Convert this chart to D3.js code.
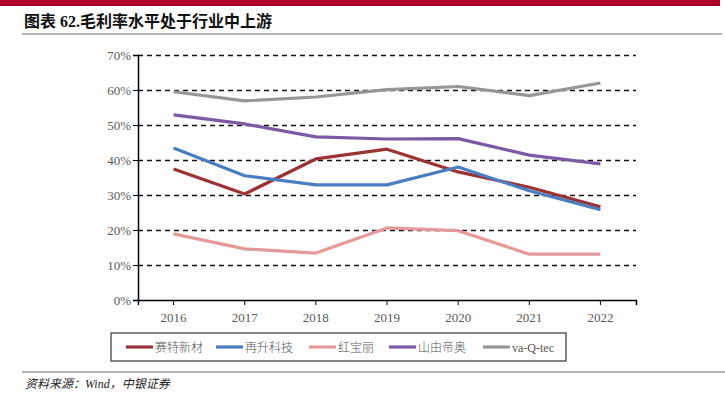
<!DOCTYPE html>
<html>
<head>
<meta charset="utf-8">
<script src="https://cdn.jsdelivr.net/npm/d3@7"></script>
<style>
  body { margin: 0; background: #fff; }
  svg text { font-family: "Liberation Serif", "Noto Sans CJK SC", serif; }
</style>
</head>
<body>
<div id="chart"></div>
<script>
// chart data
var years = ["2016", "2017", "2018", "2019", "2020", "2021", "2022"];
var seriesNames = ["赛特新材", "再升科技", "红宝丽", "山由帝奥", "va-Q-tec"];
var saite = [37.4, 30.3, 40.3, 43.1, 36.6, 32.2, 26.6];
var zaisheng = [43.4, 35.5, 32.9, 32.9, 38.0, 31.2, 25.8];
var hongbaoli = [18.9, 14.6, 13.4, 20.6, 19.8, 13.1, 13.1];
var shanyou = [52.9, 50.3, 46.6, 46.0, 46.1, 41.4, 38.9];
var vaqtec = [59.5, 56.9, 58.0, 60.1, 61.0, 58.4, 62.0];
var yTicks = [0, 10, 20, 30, 40, 50, 60, 70];
var colors = ["#9B3234", "#4A7EC1", "#E39A98", "#7B5AA3", "#969696"];

var allSeries = [saite, zaisheng, hongbaoli, shanyou, vaqtec];

var width = 725, height = 408;
var svg = d3.select("#chart").append("svg")
  .attr("width", width).attr("height", height);

// header bar and rules
svg.append("rect").attr("x", 0).attr("y", 0).attr("width", 720).attr("height", 6).attr("fill", "#B0002A");
svg.append("text").attr("x", 24).attr("y", 27)
  .attr("font-size", 16).attr("font-weight", "bold").attr("fill", "#111")
  .text("图表 62.毛利率水平处于行业中上游");
svg.append("line").attr("x1", 22).attr("x2", 722).attr("y1", 34).attr("y2", 34)
  .attr("stroke", "#999").attr("stroke-width", 1.5);
svg.append("line").attr("x1", 22).attr("x2", 725).attr("y1", 372).attr("y2", 372)
  .attr("stroke", "#999").attr("stroke-width", 1.5);
svg.append("text").attr("x", 25).attr("y", 388)
  .attr("font-size", 12).attr("font-style", "italic").attr("fill", "#222")
  .text("资料来源：Wind，中银证券");

var x = d3.scaleBand().domain(years).range([138, 636]);
var y = d3.scaleLinear().domain([0, 70]).range([300, 55]);

// gridlines
svg.append("g").selectAll("line").data(yTicks.slice(1)).enter().append("line")
  .attr("x1", 138).attr("x2", 636)
  .attr("y1", function(d){ return Math.round(y(d)) + 0.5; })
  .attr("y2", function(d){ return Math.round(y(d)) + 0.5; })
  .attr("stroke", "#111").attr("stroke-width", 1.4).attr("stroke-dasharray", "5,4");

// y axis
var yAxis = svg.append("g").attr("transform", "translate(138,0)")
  .call(d3.axisLeft(y).tickValues(yTicks).tickSize(5).tickFormat(function(d){ return d + "%"; }));
yAxis.select(".domain").attr("stroke", "#000").attr("stroke-width", 1.5);
yAxis.selectAll(".tick line").attr("stroke", "#000");
yAxis.selectAll("text").attr("font-size", 13).attr("fill", "#595959")
  .attr("font-family", "Liberation Serif").attr("x", -7);

// x axis
var xAxis = svg.append("g").attr("transform", "translate(0,300)")
  .call(d3.axisBottom(x).tickSize(5).tickSizeOuter(5));
xAxis.select(".domain").attr("stroke", "#000").attr("stroke-width", 1.5);
xAxis.selectAll(".tick line").attr("stroke", "#000");
xAxis.selectAll("text").attr("font-size", 13).attr("fill", "#595959")
  .attr("font-family", "Liberation Serif").attr("dy", "1.1em");

var line = d3.line()
  .x(function(d, i){ return x(years[i]) + x.bandwidth() / 2; })
  .y(function(d){ return y(d); });

// later series drawn over earlier ones
svg.append("g").selectAll("path").data(allSeries).enter().append("path")
  .attr("d", line)
  .attr("fill", "none")
  .attr("stroke", function(d, i){ return colors[i]; })
  .attr("stroke-width", 3.2)
  .attr("stroke-linejoin", "round");

// legend
svg.append("rect").attr("x", 111).attr("y", 333).attr("width", 455).attr("height", 28)
  .attr("fill", "none").attr("stroke", "#333").attr("stroke-width", 1.2);
var legendX = [126, 216, 309, 389, 483];
var lg = svg.append("g").selectAll("g").data(seriesNames).enter().append("g")
  .attr("transform", function(d, i){ return "translate(" + legendX[i] + ",347)"; });
lg.append("line").attr("x1", 0).attr("x2", 27).attr("y1", 0).attr("y2", 0)
  .attr("stroke", function(d, i){ return colors[i]; }).attr("stroke-width", 3.2);
lg.append("text").attr("x", 29).attr("y", 4.5).attr("font-size", 12).attr("fill", "#555")
  .attr("font-weight", 300)
  .text(function(d){ return d; });
</script>
</body>
</html>
